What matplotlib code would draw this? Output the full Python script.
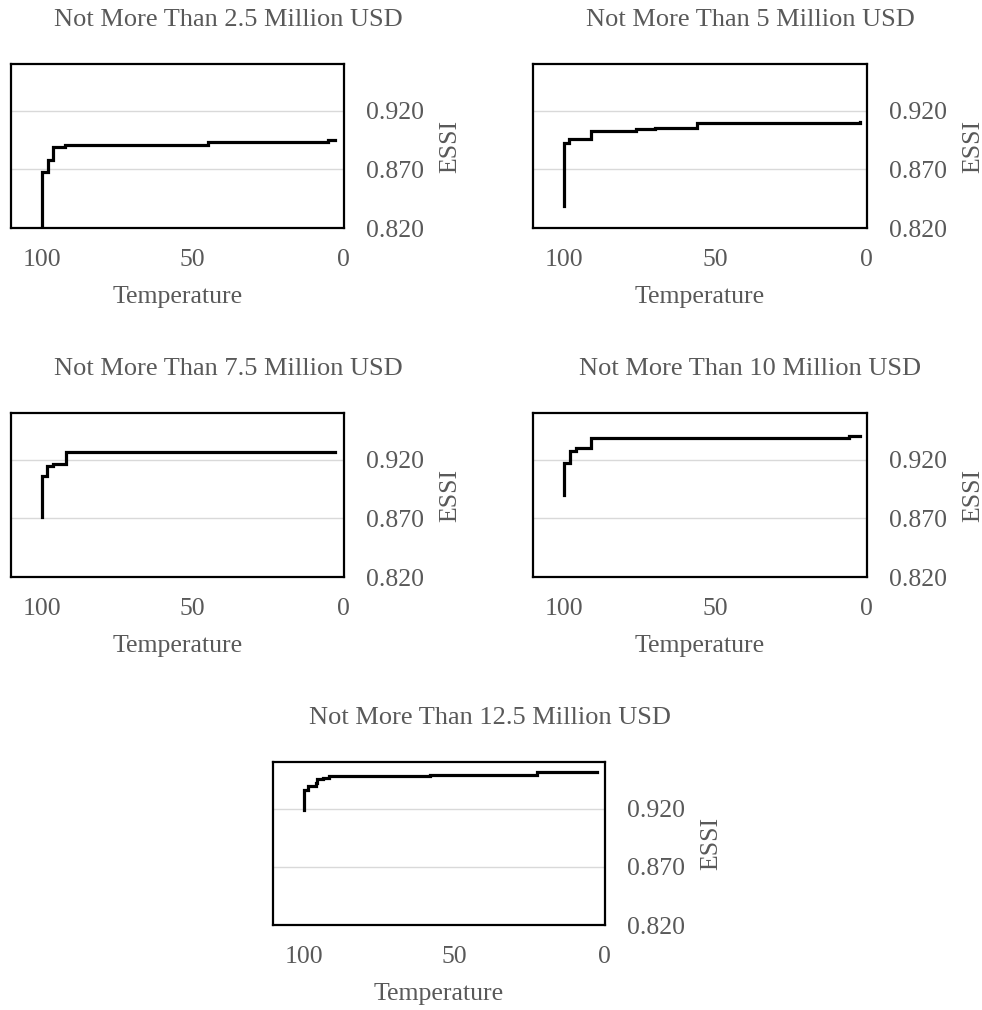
import matplotlib
matplotlib.use("Agg")
import matplotlib.pyplot as plt

plt.rcParams["font.family"] = ["Liberation Serif", "DejaVu Serif"]

GREY = "#595959"

# ESSI traces against annealing temperature, one per budget cap
titles = [
    "Not More Than 2.5 Million USD",
    "Not More Than 5 Million USD",
    "Not More Than 7.5 Million USD",
    "Not More Than 10 Million USD",
    "Not More Than 12.5 Million USD",
]

temp_25 = [100, 100, 98, 96.2, 92.4, 44.9, 5, 2.8]
essi_25 = [0.800, 0.868, 0.878, 0.889, 0.891, 0.8937, 0.895, 0.895]

temp_50 = [100, 100, 98.2, 91, 76, 70, 56, 24, 2]
essi_50 = [0.839, 0.8925, 0.8963, 0.903, 0.9044, 0.9056, 0.9096, 0.910, 0.9107]

temp_75 = [100, 100, 98.3, 96.2, 92, 2.8]
essi_75 = [0.8714, 0.906, 0.9151, 0.9168, 0.927, 0.927]

temp_100 = [100, 100, 98, 96, 91, 5.8, 2]
essi_100 = [0.8897, 0.9177, 0.9278, 0.930, 0.9385, 0.940, 0.940]

temp_125 = [100, 100, 98.7, 96, 95.4, 93.6, 91.5, 58, 22.3, 2.2]
essi_125 = [0.9186, 0.936, 0.9397, 0.942, 0.9452, 0.9466, 0.948, 0.9486, 0.9512, 0.9512]

series = [
    (temp_25, essi_25),
    (temp_50, essi_50),
    (temp_75, essi_75),
    (temp_100, essi_100),
    (temp_125, essi_125),
]

y_ticks = [0.820, 0.870, 0.920]
x_ticks = [100, 50, 0]

W, H = 982, 1010
fig = plt.figure(figsize=(W / 100, H / 100), dpi=100)

# plot-area boxes in pixels: left, top, right, bottom
boxes = [
    (11, 64, 344, 228),
    (533, 64, 867, 228),
    (11, 413, 344, 577),
    (533, 413, 867, 577),
    (273, 762, 605, 925),
]

for (l, t, r, b), title, (temps, essi) in zip(boxes, titles, series):
    ax = fig.add_axes([l / W, 1 - b / H, (r - l) / W, (b - t) / H])
    ax.plot(temps, essi, drawstyle="steps-post", color="black", lw=2.3,
            solid_joinstyle="miter", zorder=3)

    ax.set_xlim(110.2, -0.3)
    ax.set_ylim(0.82, 0.96)
    ax.set_xticks(x_ticks)
    ax.set_yticks(y_ticks)
    ax.set_yticklabels([f"{v:.3f}" for v in y_ticks])
    ax.yaxis.tick_right()
    ax.tick_params(axis="both", length=0, labelsize=18.5, labelcolor=GREY)
    ax.tick_params(axis="x", pad=15)
    ax.tick_params(axis="y", pad=16)

    for v in y_ticks[1:]:
        ax.axhline(v, color="#d9d9d9", lw=1, zorder=1)

    for sp in ax.spines.values():
        sp.set_linewidth(1.6)
        sp.set_color("black")

    ax.set_xlabel("Temperature", fontsize=18.5, color=GREY)
    ax.xaxis.set_label_coords(0.5, -69 / (b - t))
    ax.xaxis.label.set_va("center")

    ax.yaxis.set_label_position("right")
    ax.set_ylabel("ESSI", fontsize=18.5, color=GREY, rotation=90)
    ax.yaxis.label.set_rotation_mode("default")
    ax.yaxis.label.set_va("center")
    ax.yaxis.label.set_ha("center")
    ax.yaxis.set_label_coords(1 + 106 / (r - l), 0.5)

    fig.text((l + 217) / W, 1 - (t - 44) / H, title, fontsize=19,
             color=GREY, ha="center", va="center")

fig.savefig("out.png", dpi=100, facecolor="white")
